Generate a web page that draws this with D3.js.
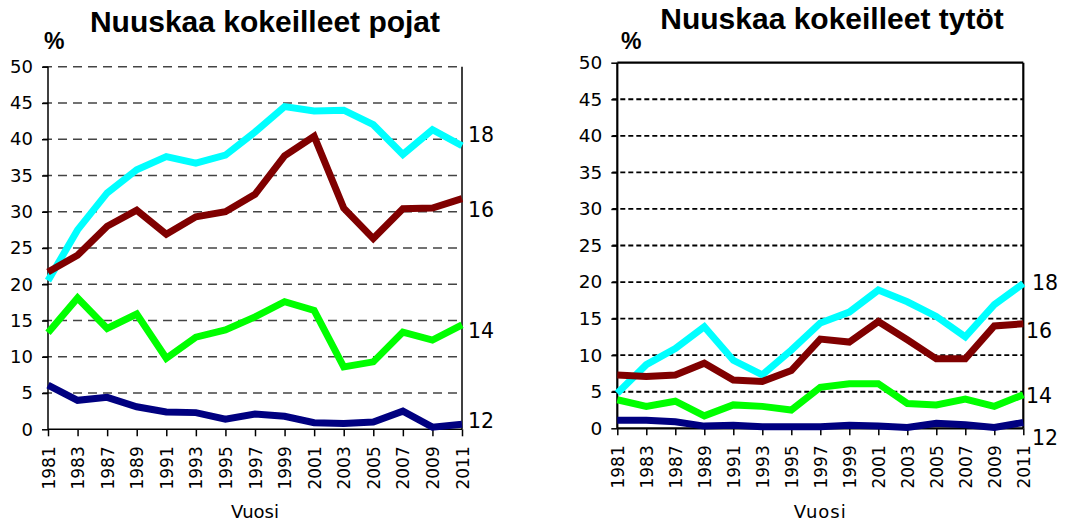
<!DOCTYPE html>
<html>
<head>
<meta charset="utf-8">
<script src="https://cdnjs.cloudflare.com/ajax/libs/d3/7.8.5/d3.min.js"></script>
<style>
  body { margin: 0; background: #fff; }
  svg { display: block; font-family: "DejaVu Sans", Arial, sans-serif; }
</style>
</head>
<body>
<svg id="chart" width="1086" height="523"></svg>
<script>
const years = ["1981","1983","1987","1989","1991","1993","1995","1997","1999","2001","2003","2005","2007","2009","2011"];
const yTicks = [0,5,10,15,20,25,30,35,40,45,50];
const ageLabels = ["18","16","14","12"];
const colors = ["#00ffff","#800000","#00ff00","#000080"];

// pojat (boys), by age 18, 16, 14, 12
const boys18 = [20.5,27.5,32.6,35.8,37.6,36.7,37.8,41.0,44.5,43.9,44.0,42.0,37.9,41.3,39.1];
const boys16 = [21.7,24.0,28.0,30.2,26.9,29.3,30.0,32.4,37.7,40.4,30.5,26.3,30.4,30.5,31.8];
const boys14 = [13.3,18.1,13.9,15.9,9.8,12.7,13.7,15.5,17.6,16.4,8.6,9.3,13.4,12.3,14.4];
const boys12 = [6.1,4.0,4.4,3.1,2.4,2.3,1.4,2.1,1.8,0.9,0.8,1.0,2.5,0.3,0.7];

// tytöt (girls), by age 18, 16, 14, 12
const girls18 = [4.8,8.7,10.9,13.9,9.3,7.3,10.7,14.4,15.9,18.9,17.3,15.3,12.5,16.9,19.8];
const girls16 = [7.3,7.1,7.3,8.9,6.6,6.4,7.9,12.2,11.8,14.6,12.1,9.5,9.5,14.0,14.3];
const girls14 = [3.9,3.0,3.7,1.7,3.2,3.0,2.5,5.6,6.1,6.1,3.4,3.2,4.0,3.0,4.6];
const girls12 = [1.1,1.1,0.9,0.3,0.4,0.2,0.2,0.2,0.4,0.3,0.1,0.7,0.5,0.1,0.8];

const svg = d3.select("#chart");

function drawPanel(opt) {
  const g = svg.append("g");
  const x = d3.scalePoint().domain(years).range([opt.left, opt.right]);
  const y = d3.scaleLinear().domain([0, 50]).range([opt.bottom, opt.top]);

  // dashed gridlines
  const grid = opt.solidTop ? yTicks.filter(v => v > 0 && v < 50) : yTicks.filter(v => v > 0);
  g.selectAll(".grid").data(grid).enter().append("line")
    .attr("x1", opt.left - 5).attr("x2", opt.right)
    .attr("y1", d => y(d)).attr("y2", d => y(d))
    .attr("stroke", opt.gridColor)
    .attr("stroke-width", opt.gridWidth)
    .attr("stroke-dasharray", opt.dash);

  if (opt.solidTop) {
    g.append("line").attr("x1", opt.left).attr("x2", opt.right)
      .attr("y1", opt.top).attr("y2", opt.top)
      .attr("stroke", "#000").attr("stroke-width", opt.axisWidth);
  }
  // right border
  g.append("line").attr("x1", opt.right).attr("x2", opt.right)
    .attr("y1", opt.top).attr("y2", opt.bottom)
    .attr("stroke", "#000").attr("stroke-width", opt.axisWidth);

  // y axis
  const yAxis = g.append("g")
    .attr("transform", `translate(${opt.left},0)`)
    .call(d3.axisLeft(y).tickValues(yTicks).tickSize(6).tickPadding(9));
  yAxis.select(".domain").attr("stroke-width", opt.axisWidth).attr("d", `M0,${opt.bottom}V${opt.top}`);
  yAxis.selectAll("line").attr("stroke-width", 1.5);
  yAxis.selectAll("text").attr("font-size", opt.yFont).attr("fill", "#000")
    .attr("font-family", "'DejaVu Sans', Arial, sans-serif");

  // x axis
  const xAxis = g.append("g")
    .attr("transform", `translate(0,${opt.bottom})`)
    .call(d3.axisBottom(x).tickSize(7).tickPadding(3));
  xAxis.select(".domain").attr("stroke-width", opt.axisWidth).attr("d", `M${opt.left},0H${opt.right}`);
  xAxis.selectAll("line").attr("stroke-width", 1.5);
  xAxis.selectAll("text")
    .attr("font-size", opt.xFont).attr("fill", "#000")
    .attr("font-family", "'DejaVu Sans', Arial, sans-serif")
    .attr("transform", "rotate(-90)")
    .attr("text-anchor", "end")
    .attr("x", -17).attr("y", 0).attr("dy", "0.36em");

  // lines
  const line = d3.line().x((d, i) => x(years[i])).y(d => y(d));
  opt.series.forEach((s, i) => {
    g.append("path").datum(s)
      .attr("d", line)
      .attr("fill", "none")
      .attr("stroke", colors[i])
      .attr("stroke-width", 7)
      .attr("stroke-linejoin", "miter");
  });

  // age labels at right
  opt.labelPos.forEach((p, i) => {
    g.append("text").attr("x", p[0]).attr("y", p[1])
      .attr("font-size", 20.5).text(ageLabels[i]);
  });

  // title, %, Vuosi
  g.append("text").attr("x", opt.titleX).attr("y", opt.titleY)
    .attr("text-anchor", "middle").attr("font-weight", "bold")
    .attr("font-family", "Arial, 'Liberation Sans', sans-serif")
    .attr("font-size", 30).text(opt.title);
  g.append("text").attr("x", opt.pctX).attr("y", 49)
    .attr("font-weight", "bold")
    .attr("font-family", "Arial, 'Liberation Sans', sans-serif")
    .attr("font-size", 23).text("%");
  g.append("text").attr("x", (opt.left + opt.right) / 2).attr("y", 518)
    .attr("text-anchor", "middle").attr("font-size", 18)
    .attr("letter-spacing", opt.vuosiSpacing).text("Vuosi");
}

drawPanel({
  left: 48, right: 462, top: 66.7, bottom: 429.3,
  title: "Nuuskaa kokeilleet pojat", titleX: 265, titleY: 32, pctX: 44,
  gridColor: "#444", gridWidth: 1.4, dash: "9,6", solidTop: false, axisWidth: 1.5,
  yFont: 18, xFont: 17, vuosiSpacing: 0,
  series: [boys18, boys16, boys14, boys12],
  labelPos: [[468, 142], [468, 217], [468, 338], [468, 428]]
});

drawPanel({
  left: 617.3, right: 1023.3, top: 62.7, bottom: 428.3,
  title: "Nuuskaa kokeilleet  tytöt", titleX: 832, titleY: 29, pctX: 621,
  gridColor: "#000", gridWidth: 1.8, dash: "5,3", solidTop: true, axisWidth: 2.2,
  yFont: 18.5, xFont: 17, vuosiSpacing: 1,
  series: [girls18, girls16, girls14, girls12],
  labelPos: [[1032, 290], [1026, 338], [1026, 403], [1032, 445]]
});
</script>
</body>
</html>
